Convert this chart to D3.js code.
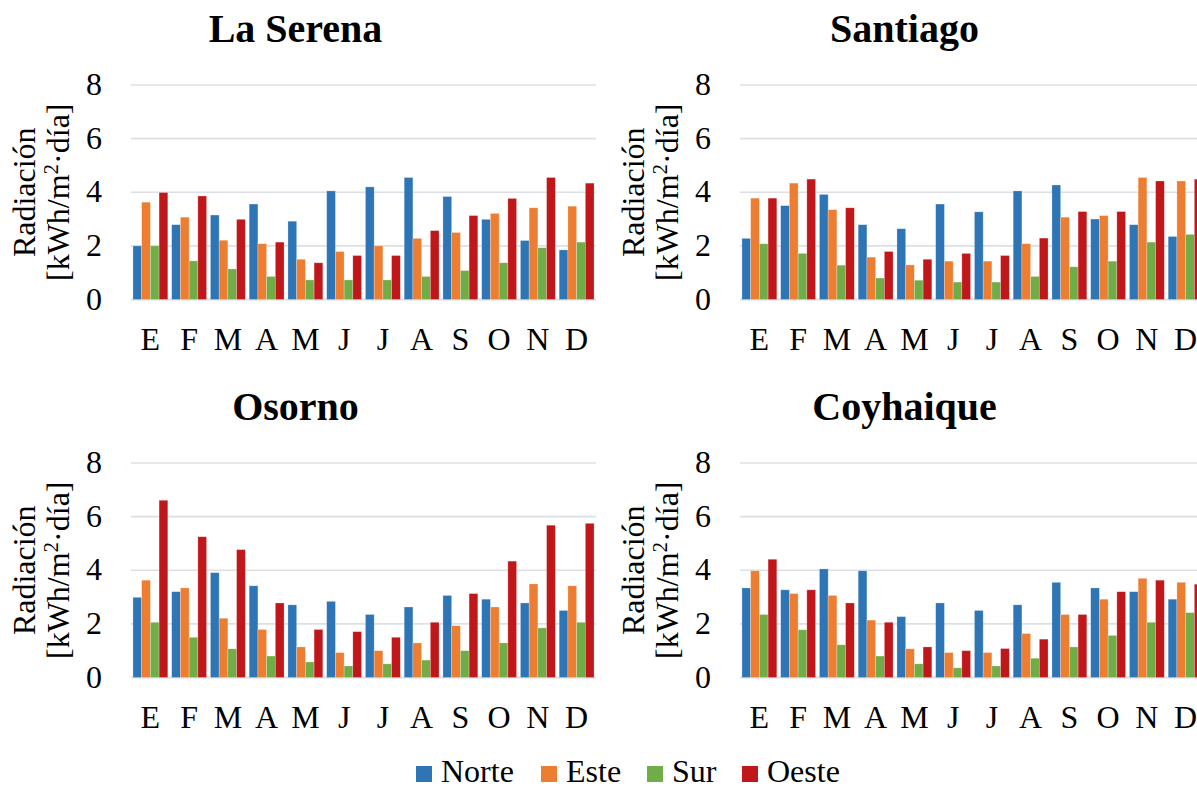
<!DOCTYPE html>
<html>
<head>
<meta charset="utf-8">
<script src="https://cdn.jsdelivr.net/npm/d3@7"></script>
<style>
  html, body { margin: 0; padding: 0; background: #fff; overflow: hidden; }
  svg { display: block; }
  svg text { font-family: "Liberation Serif", "Times New Roman", Times, serif; }
</style>
</head>
<body>
<svg id="chart" width="1197" height="789"></svg>
<script>
// Months (Spanish initials) and orientations
const months = ["E", "F", "M", "A", "M", "J", "J", "A", "S", "O", "N", "D"];
const orientations = ["Norte", "Este", "Sur", "Oeste"];
const colors = ["#2E75B6", "#ED7D31", "#70AD47", "#C0171B"];
const yTicks = [0, 2, 4, 6, 8];

// Daily radiation [kWh/m²·día] per month, one array per orientation
const laSerenaNorte = [2.00, 2.79, 3.15, 3.56, 2.92, 4.05, 4.20, 4.55, 3.84, 2.99, 2.20, 1.85];
const laSerenaEste  = [3.63, 3.07, 2.21, 2.08, 1.50, 1.79, 2.00, 2.28, 2.50, 3.21, 3.42, 3.48];
const laSerenaSur   = [2.00, 1.44, 1.14, 0.86, 0.73, 0.73, 0.73, 0.86, 1.08, 1.37, 1.93, 2.14];
const laSerenaOeste = [3.99, 3.86, 2.99, 2.14, 1.37, 1.64, 1.64, 2.57, 3.13, 3.77, 4.55, 4.34];

const santiagoNorte = [2.28, 3.50, 3.92, 2.79, 2.64, 3.56, 3.27, 4.05, 4.27, 3.00, 2.79, 2.35];
const santiagoEste  = [3.78, 4.34, 3.35, 1.58, 1.29, 1.43, 1.43, 2.08, 3.07, 3.13, 4.55, 4.42];
const santiagoSur   = [2.08, 1.72, 1.28, 0.80, 0.72, 0.65, 0.65, 0.86, 1.22, 1.43, 2.14, 2.43];
const santiagoOeste = [3.78, 4.49, 3.42, 1.79, 1.50, 1.72, 1.64, 2.29, 3.28, 3.28, 4.42, 4.49];

const osornoNorte = [2.99, 3.20, 3.91, 3.42, 2.71, 2.84, 2.35, 2.63, 3.06, 2.92, 2.78, 2.50];
const osornoEste  = [3.63, 3.34, 2.21, 1.79, 1.14, 0.93, 1.00, 1.29, 1.93, 2.63, 3.49, 3.42];
const osornoSur   = [2.06, 1.50, 1.07, 0.80, 0.58, 0.43, 0.51, 0.65, 1.00, 1.29, 1.85, 2.06];
const osornoOeste = [6.61, 5.25, 4.77, 2.78, 1.79, 1.71, 1.50, 2.06, 3.13, 4.34, 5.68, 5.75];

const coyhaiqueNorte = [3.34, 3.27, 4.05, 3.98, 2.27, 2.78, 2.50, 2.71, 3.55, 3.34, 3.20, 2.92];
const coyhaiqueEste  = [3.98, 3.13, 3.06, 2.14, 1.07, 0.93, 0.93, 1.64, 2.35, 2.92, 3.70, 3.55];
const coyhaiqueSur   = [2.35, 1.78, 1.22, 0.80, 0.51, 0.36, 0.43, 0.72, 1.14, 1.57, 2.06, 2.42];
const coyhaiqueOeste = [4.41, 3.27, 2.78, 2.06, 1.14, 1.00, 1.08, 1.43, 2.35, 3.20, 3.63, 3.48];

const panels = [
  { title: "La Serena", col: 0, row: 0, series: [laSerenaNorte, laSerenaEste, laSerenaSur, laSerenaOeste] },
  { title: "Santiago",  col: 1, row: 0, series: [santiagoNorte, santiagoEste, santiagoSur, santiagoOeste] },
  { title: "Osorno",    col: 0, row: 1, series: [osornoNorte, osornoEste, osornoSur, osornoOeste] },
  { title: "Coyhaique", col: 1, row: 1, series: [coyhaiqueNorte, coyhaiqueEste, coyhaiqueSur, coyhaiqueOeste] }
];

const serif = "'Liberation Serif', 'Times New Roman', Times, serif";
const svg = d3.select("#chart").attr("font-family", serif);
const fontSize = 32;

// Panel geometry
const plotW = 465, plotH = 214.5;
const colX = [131, 740];
const rowY = [85, 463];

panels.forEach(p => {
  const x0 = colX[p.col], y0 = rowY[p.row];
  const g = svg.append("g").attr("transform", `translate(${x0},${y0})`);

  const x = d3.scaleBand().domain(d3.range(months.length)).range([0, plotW])
    .paddingInner(0.1).paddingOuter(0.05);
  const xs = d3.scaleBand().domain(d3.range(orientations.length)).range([0, x.bandwidth()]);
  const y = d3.scaleLinear().domain([0, 8]).range([plotH, 0]);

  // Horizontal gridlines
  g.append("g").selectAll("line").data(yTicks).join("line")
    .attr("x1", 0).attr("x2", plotW)
    .attr("y1", d => y(d)).attr("y2", d => y(d))
    .attr("stroke", "#DCE0E6").attr("stroke-width", d => d === 0 ? 2 : 1.6);

  // Y tick labels
  g.append("g").selectAll("text").data(yTicks).join("text")
    .attr("x", -29).attr("y", d => y(d) + 10)
    .attr("text-anchor", "end").attr("font-size", fontSize)
    .attr("font-family", serif).attr("fill", "#000")
    .text(d => d);

  // Bars
  p.series.forEach((vals, si) => {
    g.append("g").selectAll("rect").data(vals).join("rect")
      .attr("x", (d, i) => x(i) + xs(si))
      .attr("y", d => y(d))
      .attr("width", xs.bandwidth())
      .attr("height", d => y(0) - y(d))
      .attr("fill", colors[si])
      .attr("stroke", "#fff").attr("stroke-opacity", 0.35).attr("stroke-width", 0.7);
  });

  // Month labels
  g.append("g").selectAll("text").data(months).join("text")
    .attr("x", (d, i) => x(i) + x.bandwidth() / 2)
    .attr("y", plotH + 50)
    .attr("text-anchor", "middle").attr("font-size", fontSize)
    .attr("font-family", serif).attr("fill", "#000")
    .text(d => d);

  // Y axis title (two lines)
  const yt = g.append("text")
    .attr("transform", `translate(${-96},${plotH / 2}) rotate(-90)`)
    .attr("text-anchor", "middle").attr("font-size", fontSize)
    .attr("font-family", serif).attr("fill", "#000");
  yt.append("tspan").attr("x", 0).attr("y", 0).text("Radiación");
  const l2 = yt.append("tspan").attr("x", 0).attr("y", 34);
  l2.append("tspan").text("[kWh/m");
  l2.append("tspan").attr("font-size", 21).attr("dy", -11).text("2");
  l2.append("tspan").attr("dy", 11).text("·día]");

  // Panel title
  svg.append("text")
    .attr("x", x0 + plotW / 2 - 68).attr("y", y0 - 43)
    .attr("text-anchor", "middle").attr("font-size", 40).attr("font-weight", "bold")
    .attr("font-family", serif).attr("fill", "#000").text(p.title);
});

// Legend
const legendX = [416, 541, 647, 742];
const legend = svg.append("g");
orientations.forEach((name, i) => {
  legend.append("rect").attr("x", legendX[i]).attr("y", 766).attr("width", 16).attr("height", 16)
    .attr("fill", colors[i]);
  legend.append("text").attr("x", legendX[i] + 25).attr("y", 782)
    .attr("font-size", fontSize).attr("font-family", serif).attr("fill", "#000").text(name);
});
</script>
</body>
</html>
